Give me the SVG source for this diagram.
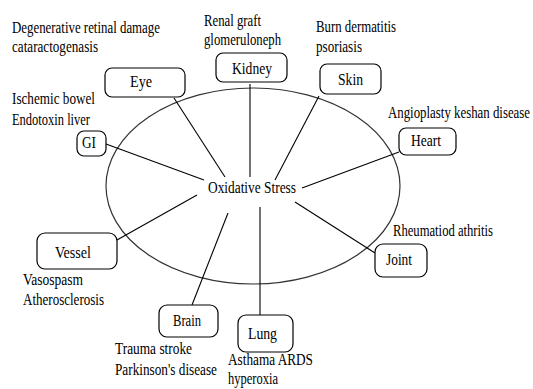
<svg xmlns="http://www.w3.org/2000/svg" width="533" height="389" viewBox="0 0 533 389">
<style>
text{font-family:"Liberation Serif","Times New Roman",serif;font-size:16px;fill:#000}
.box{fill:#fff;stroke:#000;stroke-width:1.2}
.ln{stroke:#000;stroke-width:1.1;fill:none}
</style>
<rect width="533" height="389" fill="#fff"/>
<ellipse cx="253" cy="186" rx="147" ry="98" fill="none" stroke="#333" stroke-width="1.2"/>
<g id="connectors">
<line class="ln" x1="174" y1="98" x2="225" y2="177"/>
<line class="ln" x1="250" y1="84" x2="250" y2="177"/>
<line class="ln" x1="319" y1="96" x2="275" y2="180"/>
<line class="ln" x1="399" y1="152" x2="302" y2="188"/>
<line class="ln" x1="106" y1="144" x2="204" y2="180"/>
<line class="ln" x1="117" y1="240" x2="197" y2="195"/>
<line class="ln" x1="295" y1="202" x2="375" y2="253"/>
<line class="ln" x1="228" y1="213" x2="192" y2="305"/>
<line class="ln" x1="260" y1="207" x2="260" y2="315"/>
</g>
<g id="center"><text transform="translate(208,193) scale(0.81,1)" textLength="108.6" lengthAdjust="spacingAndGlyphs">Oxidative Stress</text></g>
<g id="eye">
<rect class="box" x="105" y="68" width="80" height="29" rx="7"/>
<text transform="translate(130,87) scale(0.81,1)" textLength="27.2" lengthAdjust="spacingAndGlyphs">Eye</text>
<text transform="translate(12,33) scale(0.81,1)" textLength="182.7" lengthAdjust="spacingAndGlyphs">Degenerative retinal damage</text>
<text transform="translate(12,52) scale(0.81,1)" textLength="106.2" lengthAdjust="spacingAndGlyphs">cataractogenasis</text>
</g>
<g id="kidney">
<rect class="box" x="216" y="53" width="71" height="29" rx="7"/>
<text transform="translate(232,74) scale(0.81,1)" textLength="49.4" lengthAdjust="spacingAndGlyphs">Kidney</text>
<text transform="translate(204,26) scale(0.81,1)" textLength="70.4" lengthAdjust="spacingAndGlyphs">Renal graft</text>
<text transform="translate(204,45) scale(0.81,1)" textLength="95.1" lengthAdjust="spacingAndGlyphs">glomeruloneph</text>
</g>
<g id="skin">
<rect class="box" x="320" y="64" width="61" height="30" rx="7"/>
<text transform="translate(338,85) scale(0.81,1)" textLength="30.9" lengthAdjust="spacingAndGlyphs">Skin</text>
<text transform="translate(316,32) scale(0.81,1)" textLength="98.8" lengthAdjust="spacingAndGlyphs">Burn dermatitis</text>
<text transform="translate(316,52) scale(0.81,1)" textLength="56.8" lengthAdjust="spacingAndGlyphs">psoriasis</text>
</g>
<g id="heart">
<rect class="box" x="399" y="128" width="57" height="27" rx="7"/>
<text transform="translate(411,146) scale(0.81,1)" textLength="37" lengthAdjust="spacingAndGlyphs">Heart</text>
<text transform="translate(388,118) scale(0.81,1)" textLength="175.3" lengthAdjust="spacingAndGlyphs">Angioplasty keshan disease</text>
</g>
<g id="gi">
<rect class="box" x="77" y="131" width="29" height="25" rx="7"/>
<text transform="translate(82,148) scale(0.81,1)" textLength="17.3" lengthAdjust="spacingAndGlyphs">GI</text>
<text transform="translate(12,104) scale(0.81,1)" textLength="102.5" lengthAdjust="spacingAndGlyphs">Ischemic bowel</text>
<text transform="translate(12,125) scale(0.81,1)" textLength="96.3" lengthAdjust="spacingAndGlyphs">Endotoxin liver</text>
</g>
<g id="vessel">
<rect class="box" x="37" y="233" width="80" height="36" rx="8"/>
<text transform="translate(55,258) scale(0.81,1)" textLength="44.4" lengthAdjust="spacingAndGlyphs">Vessel</text>
<text transform="translate(23,285) scale(0.81,1)" textLength="74.1" lengthAdjust="spacingAndGlyphs">Vasospasm</text>
<text transform="translate(23,305) scale(0.81,1)" textLength="100" lengthAdjust="spacingAndGlyphs">Atherosclerosis</text>
</g>
<g id="joint">
<rect class="box" x="375" y="244" width="52" height="33" rx="8"/>
<text transform="translate(386,265) scale(0.81,1)" textLength="32.1" lengthAdjust="spacingAndGlyphs">Joint</text>
<text transform="translate(393,236) scale(0.81,1)" textLength="123.5" lengthAdjust="spacingAndGlyphs">Rheumatiod athritis</text>
</g>
<g id="brain">
<rect class="box" x="159" y="305" width="59" height="32" rx="8"/>
<text transform="translate(173,326) scale(0.81,1)" textLength="34.6" lengthAdjust="spacingAndGlyphs">Brain</text>
<text transform="translate(115,354) scale(0.81,1)" textLength="95.1" lengthAdjust="spacingAndGlyphs">Trauma stroke</text>
<text transform="translate(115,375) scale(0.81,1)" textLength="125.9" lengthAdjust="spacingAndGlyphs">Parkinson's disease</text>
</g>
<g id="lung">
<rect class="box" x="238" y="315" width="55" height="37" rx="8"/>
<text transform="translate(248,339) scale(0.81,1)" textLength="35.8" lengthAdjust="spacingAndGlyphs">Lung</text>
<text transform="translate(228,365) scale(0.81,1)" textLength="104.9" lengthAdjust="spacingAndGlyphs">Asthama ARDS</text>
<text transform="translate(228,384) scale(0.81,1)" textLength="61.7" lengthAdjust="spacingAndGlyphs">hyperoxia</text>
</g>
</svg>
